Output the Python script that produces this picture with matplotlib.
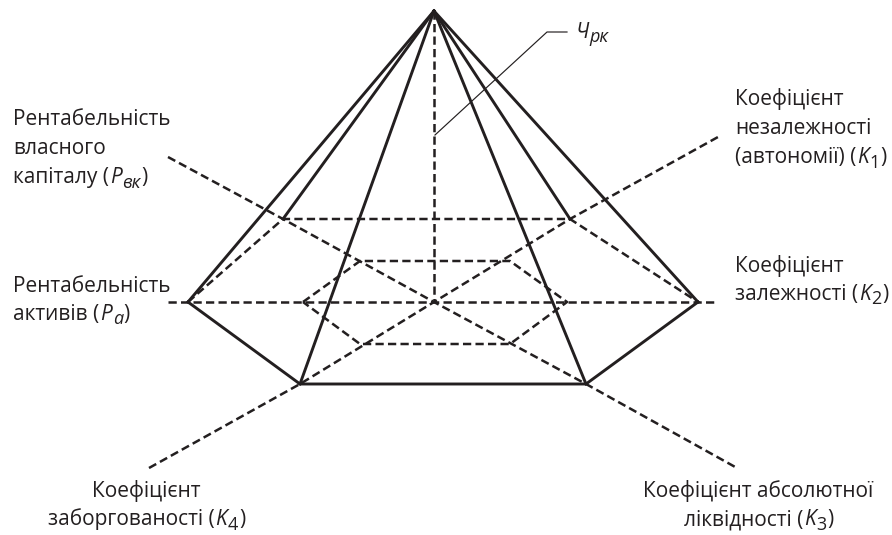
import matplotlib
matplotlib.use("Agg")
import matplotlib.pyplot as plt

plt.rcParams['font.family'] = ['Open Sans', 'DejaVu Sans']

INK = '#231f20'
FS = 15
SUB_FS = 13

apex = (434, 11)
center = (434, 302)
# base of the pyramid, clockwise from the left corner
outer = [(188, 302), (283, 219), (570, 219), (698, 302), (586, 384), (300, 384)]
inner = [(303, 302), (360, 261), (510, 261), (567, 302), (510, 344), (360, 344)]
# dashed axes, read end to end
axis_h = [(168, 302), (717, 302)]
axis_d1 = [(168, 157), (283, 219), (434, 302), (586, 384), (737, 468)]
axis_d2 = [(149, 468), (300, 384), (434, 302), (570, 219), (718, 137)]
leader = [(435, 135), (547, 32), (567, 32)]

# x, baseline, anchor, plain text, italic letter, subscript, closing text
labels = [
    (13, 125, 'left', 'Рентабельність', '', '', ''),
    (13, 154, 'left', 'власного', '', '', ''),
    (13, 183, 'left', 'капіталу (', 'P', 'вк', ')'),
    (13, 292, 'left', 'Рентабельність', '', '', ''),
    (13, 320, 'left', 'активів (', 'P', 'а', ')'),
    (735, 105, 'left', 'Коефіцієнт', '', '', ''),
    (735, 134, 'left', 'незалежності', '', '', ''),
    (735, 163, 'left', '(автономії) (', 'K', '1', ')'),
    (735, 272, 'left', 'Коефіцієнт', '', '', ''),
    (735, 300, 'left', 'залежності (', 'K', '2', ')'),
    (147, 497, 'center', 'Коефіцієнт', '', '', ''),
    (147, 525, 'center', 'заборгованості (', 'K', '4', ')'),
    (759, 497, 'center', 'Коефіцієнт абсолютної', '', '', ''),
    (759, 525, 'center', 'ліквідності (', 'K', '3', ')'),
    (575, 38, 'left', '', 'Ч', 'рк', ''),
]


def poly(ax, pts, closed=False, **kw):
    if closed:
        pts = pts + pts[:1]
    ax.plot([p[0] for p in pts], [p[1] for p in pts], color=INK, **kw)


def put_label(ax, x, y, ha, plain, letter, sub, close):
    # runs are laid one after another, mathtext makes the subscripts too small
    runs = [(plain, 'normal', FS, 0), (letter, 'italic', FS, 0),
            (sub, 'italic' if not sub.isdigit() else 'normal', SUB_FS, 4.5),
            (close, 'normal', FS, 0)]
    renderer = ax.figure.canvas.get_renderer()
    placed = []
    for s, style, size, drop in runs:
        if not s:
            continue
        t = ax.text(0, y + drop, s, ha='left', va='baseline', fontsize=size,
                    fontstyle=style, color=INK)
        placed.append((t, t.get_window_extent(renderer).width + 0.8))
    total = sum(w for _, w in placed)
    cur = x - total / 2 if ha == 'center' else x
    for t, w in placed:
        t.set_x(cur)
        cur += w


fig = plt.figure(figsize=(8.92, 5.35), dpi=100)
ax = fig.add_axes([0, 0, 1, 1])
ax.set_xlim(0, 892)
ax.set_ylim(535, 0)
ax.axis('off')

dash = dict(lw=1.8, linestyle=(0, (3.3, 1.7)), dash_capstyle='butt')
solid = dict(lw=2.1, linestyle='-', solid_joinstyle='miter')

poly(ax, axis_h, **dash)
poly(ax, axis_d1, **dash)
poly(ax, axis_d2, **dash)
poly(ax, [apex, center], **dash)
poly(ax, inner, closed=True, **dash)
poly(ax, outer[:4], **dash)

poly(ax, [outer[3], outer[4], outer[5], outer[0]], **solid)
for corner in outer:
    poly(ax, [apex, corner], **solid)

poly(ax, leader, lw=0.85)

for row in labels:
    put_label(ax, *row)

fig.savefig('out.png', dpi=100)
